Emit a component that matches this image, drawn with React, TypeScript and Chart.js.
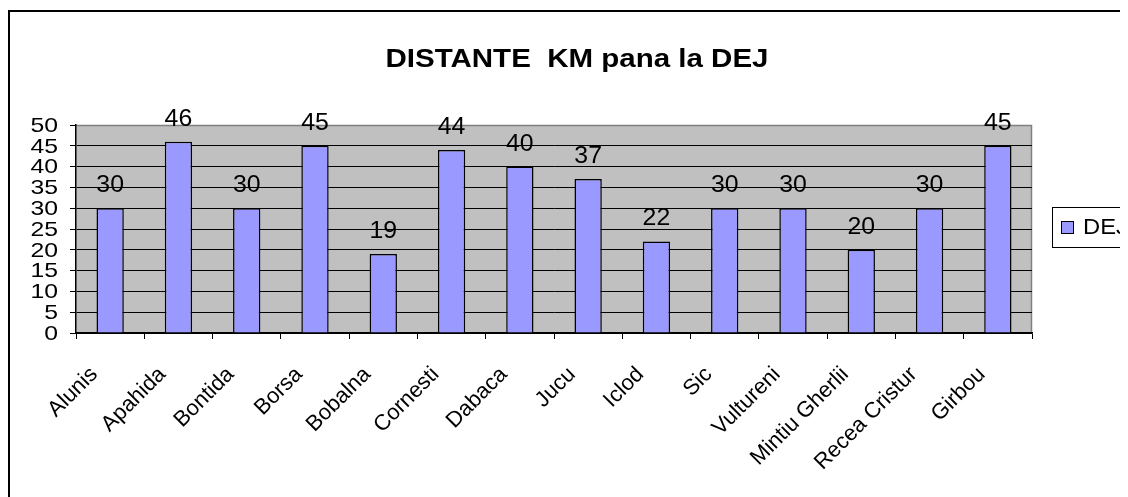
import { useEffect, useRef } from 'react';
import { Chart, registerables } from 'chart.js';

Chart.register(...registerables);

const categories = [
  'Alunis', 'Apahida', 'Bontida', 'Borsa', 'Bobalna', 'Cornesti', 'Dabaca',
  'Jucu', 'Iclod', 'Sic', 'Vultureni', 'Mintiu Gherlii', 'Recea Cristur', 'Girbou',
];
const dejValues = [30, 46, 30, 45, 19, 44, 40, 37, 22, 30, 30, 20, 30, 45];
const seriesLabel = 'DEJ';
const titleText = 'DISTANTE  KM pana la DEJ';
const yMin = 0;
const yMax = 50;
const yStep = 5;

const FONT = "'Liberation Sans', Arial, sans-serif";
const BAR_COLOR = '#9999FF';

function stretchedText(ctx: any, text: string, x: number, y: number, sx: number) {
  ctx.save();
  ctx.translate(x, y);
  ctx.scale(sx, 1);
  ctx.fillText(text, 0, 0);
  ctx.restore();
}

const excelPlugin = {
  id: 'excelLook',
  beforeDraw(chart: any) {
    const { ctx, chartArea: a } = chart;
    ctx.save();
    ctx.fillStyle = '#ffffff';
    ctx.fillRect(0, 0, chart.width, chart.height);
    ctx.strokeStyle = '#000';
    ctx.lineWidth = 2;
    ctx.beginPath();
    ctx.moveTo(1, chart.height + 5);
    ctx.lineTo(1, 3);
    ctx.lineTo(chart.width + 5, 3);
    ctx.stroke();
    ctx.fillStyle = '#C0C0C0';
    ctx.fillRect(a.left, a.top, a.right - a.left, a.bottom - a.top);
    ctx.strokeStyle = '#808080';
    ctx.lineWidth = 1.5;
    ctx.beginPath();
    ctx.moveTo(a.left, a.top + 0.5);
    ctx.lineTo(a.right - 0.5, a.top + 0.5);
    ctx.lineTo(a.right - 0.5, a.bottom);
    ctx.stroke();
    ctx.restore();
  },
  afterDatasetsDraw(chart: any) {
    const { ctx } = chart;
    const meta = chart.getDatasetMeta(0);
    ctx.save();
    ctx.font = `23px ${FONT}`;
    ctx.fillStyle = '#000';
    ctx.textAlign = 'center';
    ctx.textBaseline = 'alphabetic';
    meta.data.forEach((bar: any, i: number) => {
      stretchedText(ctx, String(dejValues[i]), bar.x, bar.y - 16, 1.08);
    });
    ctx.restore();
  },
  afterDraw(chart: any) {
    const { ctx, chartArea: a } = chart;
    const xs = chart.scales.x;
    const ys = chart.scales.y;
    ctx.save();
    ctx.fillStyle = '#000';
    // value axis labels
    ctx.font = `21px ${FONT}`;
    ctx.textAlign = 'right';
    ctx.textBaseline = 'middle';
    ys.ticks.forEach((t: any) => {
      stretchedText(ctx, String(t.value), a.left - 18, ys.getPixelForValue(t.value) + 1, 1.18);
    });
    // category labels, rotated 45°
    ctx.font = `22px ${FONT}`;
    ctx.textAlign = 'right';
    ctx.textBaseline = 'middle';
    categories.forEach((c, i) => {
      const px = xs.getPixelForValue(i);
      ctx.save();
      ctx.translate(px - 16, a.bottom + 38);
      ctx.rotate(-Math.PI / 4);
      ctx.fillText(c, 0, 0);
      ctx.restore();
    });
    // title
    ctx.font = `bold 25px ${FONT}`;
    ctx.textAlign = 'center';
    ctx.textBaseline = 'alphabetic';
    stretchedText(ctx, titleText, 569, 59, 1.18);
    // legend
    ctx.strokeStyle = '#000';
    ctx.lineWidth = 1;
    ctx.strokeRect(1044.5, 199.5, 120, 40);
    ctx.fillStyle = BAR_COLOR;
    ctx.fillRect(1053.5, 213.5, 12, 12);
    ctx.strokeRect(1053.5, 213.5, 12, 12);
    ctx.fillStyle = '#000';
    ctx.font = `22px ${FONT}`;
    ctx.textAlign = 'left';
    ctx.textBaseline = 'middle';
    stretchedText(ctx, seriesLabel, 1075, 220, 1.08);
    ctx.restore();
  },
};

export default function App() {
  const ref = useRef<HTMLCanvasElement | null>(null);

  useEffect(() => {
    if (!ref.current) return;
    const chart = new Chart(ref.current, {
      type: 'bar',
      data: {
        labels: categories,
        datasets: [
          {
            label: seriesLabel,
            data: dejValues,
            backgroundColor: BAR_COLOR,
            borderColor: '#000',
            borderWidth: 1.5,
            barPercentage: 0.4,
            categoryPercentage: 1,
          },
        ],
      },
      options: {
        responsive: false,
        animation: false,
        devicePixelRatio: 1,
        layout: { padding: { left: 0, top: 117, right: 96, bottom: 0 } },
        plugins: {
          legend: { display: false },
          title: { display: false },
          tooltip: { enabled: false },
        },
        scales: {
          x: {
            afterFit: (s: any) => {
              s.height = 164;
            },
            grid: {
              display: true,
              drawOnChartArea: false,
              drawTicks: true,
              tickLength: 6,
              color: '#000',
              offset: true,
            },
            border: { display: true, color: '#000', width: 1.5 },
            ticks: {
              display: false,
              autoSkip: false,
            },
          },
          y: {
            min: yMin,
            max: yMax,
            afterFit: (s: any) => {
              s.width = 68;
            },
            grid: {
              color: (c: any) => (c.tick && c.tick.value === yMax ? '#808080' : '#000'),
              tickColor: '#000',
              lineWidth: 1,
              tickLength: 6,
              drawTicks: true,
            },
            border: { display: true, color: '#000', width: 1.5 },
            ticks: {
              display: false,
              stepSize: yStep,
              autoSkip: false,
            },
          },
        },
      },
      plugins: [excelPlugin],
    });
    return () => chart.destroy();
  }, []);

  return (
    <div style={{ width: 1120, height: 489 }}>
      <canvas ref={ref} width={1120} height={489} style={{ display: 'block' }} />
    </div>
  );
}
